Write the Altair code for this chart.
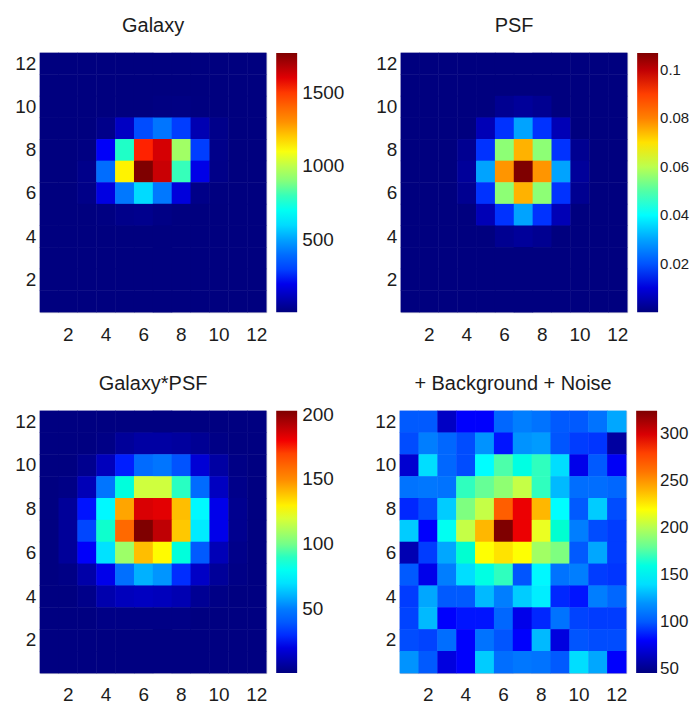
import altair as alt
import pandas as pd
import numpy as np

FONT = "Liberation Sans"
INK = "#1c1c1c"
JET = ["#00007f", "#0000ff", "#007fff", "#00ffff", "#7fff7f", "#ffff00", "#ff7f00", "#ff0000", "#7f0000"]
TICKS = [2, 4, 6, 8, 10, 12]

# each matrix: rows from y=12 (top) to y=1 (bottom), columns x=1..12
galaxy = [
    [9, 9, 9, 9, 9, 9, 9, 9, 9, 9, 9, 9],
    [9, 9, 9, 9, 9, 9, 9, 9, 9, 9, 9, 9],
    [9, 9, 9, 9, 9, 9, 14, 16, 10, 9, 9, 9],
    [9, 9, 9, 30, 130, 320, 420, 290, 100, 30, 9, 9],
    [9, 9, 14, 220, 780, 1530, 1620, 950, 290, 30, 9, 9],
    [9, 9, 30, 400, 1130, 1770, 1640, 800, 190, 25, 9, 9],
    [9, 9, 25, 180, 430, 600, 430, 170, 25, 10, 9, 9],
    [9, 9, 9, 15, 30, 35, 20, 10, 9, 9, 9, 9],
    [9, 9, 9, 9, 9, 9, 9, 9, 9, 9, 9, 9],
    [9, 9, 9, 9, 9, 9, 9, 9, 9, 9, 9, 9],
    [9, 9, 9, 9, 9, 9, 9, 9, 9, 9, 9, 9],
    [9, 9, 9, 9, 9, 9, 9, 9, 9, 9, 9, 9],
]
psf = [
    [0, 0, 0, 0, 0, 0, 0, 0, 0, 0, 0, 0],
    [0, 0, 0, 0, 0, 0, 0, 0, 0, 0, 0, 0],
    [0, 0, 0, 0, 0, .002, .003, .002, 0, 0, 0, 0],
    [0, 0, 0, 0, .006, .016, .03, .016, .006, 0, 0, 0],
    [0, 0, 0, .002, .016, .055, .075, .055, .016, .002, 0, 0],
    [0, 0, 0, .003, .03, .078, .107, .078, .03, .003, 0, 0],
    [0, 0, 0, .002, .016, .055, .075, .055, .016, .002, 0, 0],
    [0, 0, 0, 0, .006, .016, .03, .016, .006, 0, 0, 0],
    [0, 0, 0, 0, 0, .002, .003, .002, 0, 0, 0, 0],
    [0, 0, 0, 0, 0, 0, 0, 0, 0, 0, 0, 0],
    [0, 0, 0, 0, 0, 0, 0, 0, 0, 0, 0, 0],
    [0, 0, 0, 0, 0, 0, 0, 0, 0, 0, 0, 0],
]
convolved = [
    [1, 1, 1, 1, 1, 1, 1, 1, 1, 1, 1, 1],
    [1, 1, 1, 2, 6, 8, 8, 7, 5, 2, 1, 1],
    [1, 1, 4, 13, 28, 45, 48, 38, 18, 8, 2, 1],
    [1, 2, 12, 48, 85, 118, 118, 90, 45, 14, 3, 1],
    [1, 6, 27, 75, 145, 185, 183, 140, 75, 22, 4, 1],
    [1, 6, 35, 88, 160, 203, 190, 138, 72, 22, 4, 1],
    [1, 6, 25, 70, 108, 140, 128, 85, 40, 12, 3, 1],
    [1, 2, 9, 22, 46, 60, 55, 30, 15, 6, 2, 1],
    [1, 1, 3, 10, 13, 14, 13, 11, 5, 2, 1, 1],
    [1, 1, 1, 2, 2, 2, 2, 2, 1, 1, 1, 1],
    [1, 1, 1, 1, 1, 1, 1, 1, 1, 1, 1, 1],
    [1, 1, 1, 1, 1, 1, 1, 1, 1, 1, 1, 1],
]
noisy = [
    [100, 100, 65, 80, 80, 105, 115, 110, 100, 100, 110, 125],
    [95, 115, 105, 95, 120, 82, 120, 122, 98, 90, 88, 55],
    [68, 140, 105, 95, 150, 175, 160, 170, 140, 75, 100, 78],
    [110, 112, 110, 170, 180, 190, 205, 170, 130, 108, 108, 105],
    [85, 95, 135, 185, 205, 270, 295, 240, 150, 100, 135, 95],
    [135, 80, 155, 205, 240, 325, 295, 215, 165, 115, 95, 90],
    [60, 90, 125, 165, 220, 228, 220, 195, 185, 100, 125, 90],
    [100, 75, 115, 140, 160, 170, 98, 148, 110, 115, 90, 88],
    [90, 125, 100, 100, 130, 115, 135, 145, 85, 82, 115, 105],
    [92, 130, 80, 82, 82, 105, 75, 85, 110, 92, 90, 90],
    [95, 92, 108, 80, 110, 98, 80, 130, 72, 98, 95, 95],
    [120, 100, 72, 80, 135, 108, 112, 110, 100, 140, 125, 80],
]


def long_table(matrix):
    rows = []
    for r, line in enumerate(matrix):
        for c, v in enumerate(line):
            rows.append({"col": c + 1, "row": 12 - r, "v": v})
    return pd.DataFrame(rows)


def panel(matrix, title, vmin, vmax, values, height, label_size=19, label_offset=5):
    legend = alt.Legend(
        title=None, orient="right", offset=10, values=values, format=".2~f",
        gradientLength=height, gradientThickness=21, gradientStrokeWidth=0,
        labelFont=FONT, labelFontSize=label_size, labelColor=INK, labelOverlap=False,
        labelOffset=label_offset, tickCount=len(values), padding=0,
    )
    axis_common = dict(
        values=TICKS, title=None, labelFont=FONT, labelFontSize=19, labelColor=INK,
        labelAngle=0, ticks=False, domain=False, grid=False,
    )
    jet = alt.Scale(domain=list(np.linspace(vmin, vmax, 9)), range=JET, clamp=True)
    return (
        alt.Chart(long_table(matrix))
        .mark_rect(strokeWidth=0, width=227 / 12 + 0.5, height=height / 12 + 0.5)
        .encode(
            x=alt.X("col:O", axis=alt.Axis(labelPadding=13, **axis_common),
                    scale=alt.Scale(paddingInner=0, paddingOuter=0, round=False)),
            y=alt.Y("row:O", sort="descending",
                    axis=alt.Axis(labelPadding=4, minExtent=31, maxExtent=31, **axis_common),
                    scale=alt.Scale(paddingInner=0, paddingOuter=0, round=False)),
            color=alt.Color("v:Q", legend=legend, scale=jet),
        )
        .properties(
            width=227, height=height,
            title=alt.TitleParams(title, font=FONT, fontSize=20, fontWeight="normal",
                                  color=INK, offset=17, anchor="middle"),
        )
    )


top = alt.hconcat(
    panel(galaxy, "Galaxy", 9, 1770, [500, 1000, 1500], 260),
    panel(psf, "PSF", 0, 0.107, [0.02, 0.04, 0.06, 0.08, 0.1], 260, label_size=15, label_offset=2),
    spacing=23,
).resolve_scale(color="independent")
bottom = alt.hconcat(
    panel(convolved, "Galaxy*PSF", 0.6, 203, [50, 100, 150, 200], 263),
    panel(noisy, "+ Background + Noise", 45.5, 325, [50, 100, 150, 200, 250, 300], 263,
          label_size=17, label_offset=3),
    spacing=33,
).resolve_scale(color="independent")

chart = (
    alt.vconcat(top, bottom, spacing=28)
    .properties(padding={"left": 0, "top": 6, "right": 0, "bottom": 0}, background="white")
    .configure_view(stroke="#b8b8c8", strokeWidth=1)
)
chart.save("out.html", embed_options={"renderer": "svg", "actions": False})
